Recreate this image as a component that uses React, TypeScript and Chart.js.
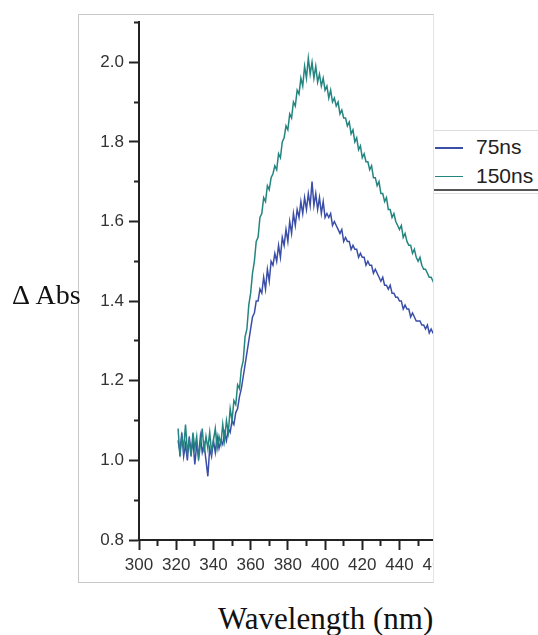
import React, { useEffect, useRef } from "react";
import { Chart, registerables } from "chart.js";

Chart.register(...registerables);

// Sampling grid (nm), 1 nm steps from 321 to 460
const START_NM = 321;
const seriesNames = ["75ns", "150ns"];
const seriesColors = ["#3a4ea8", "#23857f"];

const abs75ns = [
  1.05, 1.02, 1.07, 1.01, 1.04, 1.0, 1.06, 1.02, 1.05, 0.99,
  1.04, 1.01, 1.06, 1.02, 1.04, 1.0, 0.96, 1.03, 1.01, 1.05,
  1.02, 1.06, 1.03, 1.05, 1.04, 1.07, 1.05, 1.08, 1.07, 1.1,
  1.09, 1.12, 1.13, 1.16, 1.18, 1.21, 1.24, 1.27, 1.3, 1.33,
  1.36, 1.37, 1.4, 1.4, 1.43, 1.42, 1.46, 1.43, 1.48, 1.45,
  1.5, 1.49, 1.52, 1.5, 1.54, 1.51, 1.56, 1.54, 1.58, 1.55,
  1.6, 1.57, 1.62, 1.59, 1.63, 1.61, 1.65, 1.62, 1.66, 1.63,
  1.67, 1.64, 1.7, 1.64, 1.67, 1.63, 1.66, 1.62, 1.65, 1.61,
  1.62, 1.61, 1.62, 1.59, 1.6, 1.59, 1.58, 1.57, 1.58, 1.55,
  1.56, 1.55, 1.55, 1.53, 1.54, 1.53, 1.53, 1.51, 1.52, 1.51,
  1.51, 1.49, 1.5, 1.49, 1.49, 1.47, 1.48, 1.47, 1.46, 1.45,
  1.46, 1.44, 1.44, 1.43, 1.44, 1.42, 1.42, 1.41, 1.41, 1.4,
  1.4, 1.38, 1.39, 1.38, 1.38, 1.36, 1.37, 1.36, 1.35, 1.35,
  1.35, 1.34, 1.34, 1.33, 1.34, 1.32, 1.33, 1.32, 1.32, 1.31,
];

const abs150ns = [
  1.08, 1.01, 1.06, 1.03, 1.09, 1.02, 1.05, 1.01, 1.07, 1.03,
  1.06, 1.0, 1.04, 1.08, 1.02, 1.06, 1.03, 1.07, 1.02, 1.05,
  1.08, 1.03, 1.06, 1.04, 1.09, 1.05, 1.1, 1.07, 1.13, 1.1,
  1.15, 1.14, 1.19, 1.18, 1.23, 1.25, 1.31, 1.33, 1.39, 1.42,
  1.47, 1.5, 1.55, 1.56, 1.61, 1.62, 1.66, 1.65, 1.69, 1.68,
  1.71, 1.72, 1.74, 1.73, 1.77, 1.76, 1.8, 1.81, 1.84, 1.83,
  1.87, 1.86, 1.9, 1.89, 1.93, 1.92, 1.96, 1.94, 1.99, 1.96,
  2.01, 1.97, 2.0, 1.96, 1.99, 1.95, 1.97, 1.94, 1.96, 1.93,
  1.94, 1.91, 1.93, 1.9, 1.91, 1.89, 1.9, 1.87, 1.88, 1.86,
  1.86, 1.84, 1.85, 1.82, 1.83, 1.8, 1.81, 1.78, 1.79, 1.76,
  1.77, 1.75, 1.75, 1.73, 1.74, 1.71, 1.71, 1.69, 1.7, 1.67,
  1.67, 1.65, 1.66, 1.63, 1.63, 1.61, 1.62, 1.6, 1.59, 1.58,
  1.59, 1.56, 1.57, 1.55, 1.54, 1.54, 1.52, 1.53, 1.51, 1.5,
  1.51, 1.49, 1.48, 1.48, 1.47, 1.46, 1.46, 1.45, 1.44, 1.44,
];

const wavelengths = abs75ns.map((_, i) => START_NM + i);

const xMin = 300;
const xMax = 460;
const yMin = 0.8;
const yMax = 2.1;

const tickFont = { family: "'Liberation Sans', Arial, sans-serif", size: 17 };

export default function App() {
  const canvasRef = useRef<HTMLCanvasElement | null>(null);

  useEffect(() => {
    const canvas = canvasRef.current;
    if (!canvas) return;
    const seriesValues = [abs75ns, abs150ns];
    const chart = new Chart(canvas, {
      type: "line",
      data: {
        datasets: seriesNames.map((name, k) => ({
          label: name,
          data: wavelengths.map((x, i) => ({ x, y: seriesValues[k][i] })),
          borderColor: seriesColors[k],
          backgroundColor: seriesColors[k],
          borderWidth: 1.5,
          pointRadius: 0,
          tension: 0,
          order: k === 1 ? 0 : 1,
        })),
      },
      options: {
        animation: false,
        responsive: false,
        maintainAspectRatio: false,
        layout: { padding: { top: 22.4, right: 538 - 436.7, left: 0, bottom: 0 } },
        plugins: { legend: { display: false }, tooltip: { enabled: false } },
        scales: {
          x: {
            type: "linear",
            min: xMin,
            max: xMax,
            afterFit: (s: any) => {
              s.height = 95;
            },
            border: { color: "#222", width: 2 },
            grid: {
              drawOnChartArea: false,
              tickLength: 10,
              tickWidth: 2,
              tickColor: "#222",
              tickBorderDash: (ctx: any) =>
                Math.round(ctx.tick?.value ?? 0) % 20 === 0 ? [] : [5, 40],
            },
            ticks: {
              stepSize: 10,
              autoSkip: false,
              maxRotation: 0,
              padding: 5,
              color: "#333",
              font: tickFont,
              callback: (v: any) => (Math.round(v) % 20 === 0 ? String(Math.round(v)) : ""),
            },
          },
          y: {
            min: yMin,
            max: yMax,
            afterFit: (s: any) => {
              s.width = 139;
            },
            border: { color: "#222", width: 2 },
            grid: {
              drawOnChartArea: false,
              tickLength: 10,
              tickWidth: 2,
              tickColor: "#222",
              tickBorderDash: (ctx: any) =>
                Math.round((ctx.tick?.value ?? 0) * 10) % 2 === 0 ? [] : [0, 5, 5, 0],
            },
            ticks: {
              stepSize: 0.1,
              autoSkip: false,
              padding: 5,
              color: "#333",
              font: tickFont,
              callback: (v: any) => {
                const t = Math.round(v * 10);
                return t % 2 === 0 ? (t / 10).toFixed(1) : "";
              },
            },
          },
        },
      },
    });
    return () => chart.destroy();
  }, []);

  return (
    <div style={{ position: "fixed", left: 0, top: 0, width: 538, height: 635, background: "#fff", overflow: "hidden" }}>
      <div
        style={{
          position: "absolute",
          left: 78,
          top: 14,
          width: 356,
          height: 569,
          boxSizing: "border-box",
          borderTop: "1px solid #c8c8c8",
          borderLeft: "1px solid #c8c8c8",
          borderBottom: "1px solid #c8c8c8",
          borderRight: "1px solid #e4e4e4",
          overflow: "hidden",
        }}
      >
        <canvas
          ref={canvasRef}
          width={538}
          height={635}
          style={{ position: "absolute", left: -79, top: -15, width: 538, height: 635 }}
        />
      </div>
      {/* legend */}
      <div
        style={{
          position: "absolute",
          left: 434,
          top: 130,
          width: 104,
          height: 61,
          boxSizing: "border-box",
          borderTop: "1px solid #dcdcdc",
          borderBottom: "2px solid #555",
          background: "#fff",
        }}
      />
      <div style={{ position: "absolute", left: 434, top: 193, width: 104, height: 1, background: "#e0e0e0" }} />
      {seriesNames.map((name, k) => (
        <React.Fragment key={name}>
          <div
            style={{
              position: "absolute",
              left: 435,
              top: 147 + k * 28.5,
              width: 28,
              height: 1.5,
              background: seriesColors[k],
            }}
          />
          <div
            style={{
              position: "absolute",
              left: 476,
              top: 135 + k * 28.5,
              lineHeight: "24px",
              fontFamily: "'Liberation Sans', Arial, sans-serif",
              fontSize: 21,
              color: "#222",
              whiteSpace: "nowrap",
            }}
          >
            {name}
          </div>
        </React.Fragment>
      ))}
      <div
        style={{
          position: "absolute",
          left: 12,
          top: 280.6,
          fontFamily: "'Liberation Serif', 'Times New Roman', serif",
          fontSize: 28,
          lineHeight: "28px",
          color: "#111",
          whiteSpace: "nowrap",
        }}
      >
        Δ Abs
      </div>
      <div
        style={{
          position: "absolute",
          left: 218,
          top: 603,
          fontFamily: "'Liberation Serif', 'Times New Roman', serif",
          fontSize: 31,
          lineHeight: "31px",
          color: "#111",
          whiteSpace: "nowrap",
        }}
      >
        Wavelength (nm)
      </div>
    </div>
  );
}
